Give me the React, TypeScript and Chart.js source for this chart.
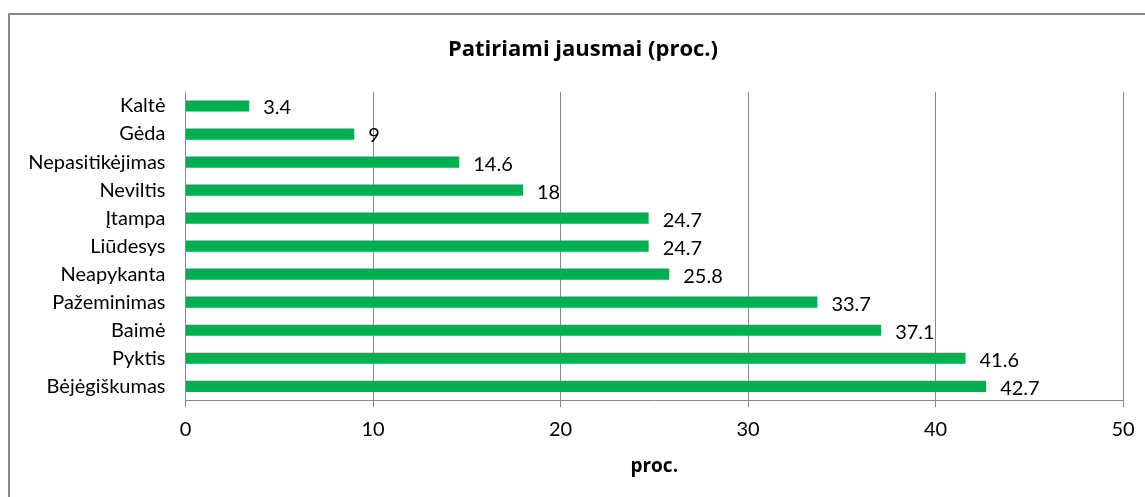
import React, { useEffect, useRef } from "react";
import { Chart, registerables } from "chart.js";

Chart.register(...registerables);

const categories = [
  "Kaltė",
  "Gėda",
  "Nepasitikėjimas",
  "Neviltis",
  "Įtampa",
  "Liūdesys",
  "Neapykanta",
  "Pažeminimas",
  "Baimė",
  "Pyktis",
  "Bėjėgiškumas",
];
const values = [3.4, 9, 14.6, 18, 24.7, 24.7, 25.8, 33.7, 37.1, 41.6, 42.7];
const xTicks = [0, 10, 20, 30, 40, 50];
const titleText = "Patiriami jausmai (proc.)";
const axisTitle = "proc.";

const FONT = "Lato";
const BOLD_FONT = "'Open Sans'";
const GRID = "#878787";

const valueLabels = {
  id: "valueLabels",
  afterDatasetsDraw(chart: any) {
    const ctx = chart.ctx;
    const meta = chart.getDatasetMeta(0);
    ctx.save();
    ctx.font = `20px ${FONT}`;
    ctx.fillStyle = "#000";
    ctx.textAlign = "left";
    ctx.textBaseline = "middle";
    meta.data.forEach((bar: any, i: number) => {
      ctx.fillText(String(values[i]), bar.x + 14, bar.y + 2);
    });
    ctx.restore();
  },
};

const chartTitle = {
  id: "chartTitle",
  afterDraw(chart: any) {
    const ctx = chart.ctx;
    ctx.save();
    ctx.font = `bold 22px ${BOLD_FONT}`;
    ctx.fillStyle = "#000";
    ctx.textAlign = "center";
    ctx.textBaseline = "middle";
    ctx.fillText(titleText, 573, 34.6);
    ctx.restore();
  },
};

export default function App() {
  const ref = useRef<HTMLCanvasElement>(null);
  useEffect(() => {
    document.documentElement.style.overflow = "hidden";
    document.body.style.overflow = "hidden";
    const chart = new Chart(ref.current!, {
      type: "bar",
      data: {
        labels: categories,
        datasets: [
          {
            data: values,
            backgroundColor: "#00B050",
            borderWidth: 0,
            barPercentage: 0.4,
            categoryPercentage: 1,
          },
        ],
      },
      plugins: [valueLabels, chartTitle],
      options: {
        indexAxis: "y",
        responsive: false,
        animation: false,
        devicePixelRatio: 1,
        layout: { padding: { left: 5, right: 33, top: 77, bottom: 15.5 } },
        plugins: {
          legend: { display: false },
          tooltip: { enabled: false },
          title: { display: false },
        },
        scales: {
          x: {
            min: 0,
            max: 50,
            afterBuildTicks: (scale: any) => {
              scale.ticks = xTicks.map((v) => ({ value: v }));
            },
            grid: {
              display: true,
              color: GRID,
              lineWidth: 1,
              drawTicks: true,
              tickLength: 7,
              tickColor: GRID,
            },
            border: { display: true, color: GRID, width: 1 },
            ticks: {
              color: "#000",
              font: { family: FONT, size: 20 },
              padding: 10,
              maxRotation: 0,
            },
            title: {
              display: true,
              text: axisTitle,
              color: "#000",
              font: { family: BOLD_FONT, size: 19, weight: "bold" },
              padding: { top: 3.4, bottom: 4 },
            },
          },
          y: {
            afterFit: (scale: any) => {
              scale.width = 170.5;
            },
            grid: { display: false, drawTicks: false },
            border: { display: true, color: GRID, width: 1 },
            ticks: {
              color: "#000",
              font: { family: FONT, size: 20 },
              padding: 20,
              autoSkip: false,
            },
          },
        },
      },
    } as any);
    return () => chart.destroy();
  }, []);
  return (
    <div
      style={{
        position: "absolute",
        left: 8,
        top: 13,
        borderTop: `2px solid ${GRID}`,
        borderLeft: `2px solid ${GRID}`,
        background: "#fff",
      }}
    >
      <canvas ref={ref} width={1146} height={482} style={{ display: "block", width: 1146, height: 482 }} />
    </div>
  );
}
